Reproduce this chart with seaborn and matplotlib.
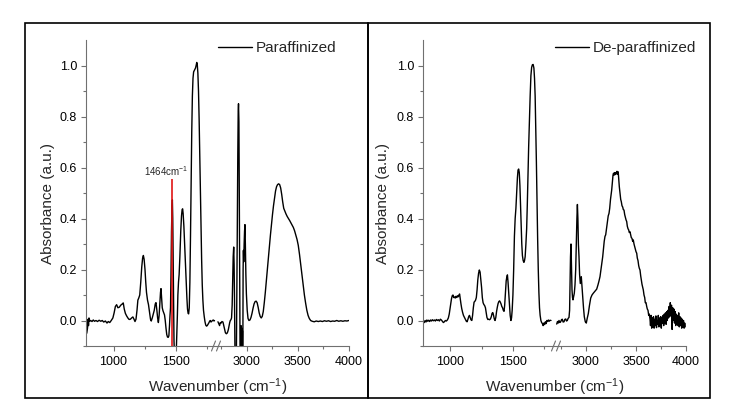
import matplotlib
matplotlib.use("Agg")
import matplotlib.pyplot as plt
import seaborn as sns
from matplotlib.lines import Line2D
from matplotlib.patches import Rectangle
from matplotlib.ticker import FormatStrFormatter

# FTIR spectra: (wavenumber cm-1, absorbance a.u.)
paraffin_low = [
    (786, -0.05), (792, -0.03), (797, 0.005), (800, -0.02), (804, 0.01), (810, -0.003),
    (818, 0.0), (828, -0.004), (838, 0.002), (848, -0.003), (860, 0.0), (872, -0.004),
    (885, 0.001), (898, -0.003), (910, 0.0), (922, -0.006), (935, -0.002), (948, -0.01),
    (958, -0.004), (970, -0.008), (982, 0.0), (995, 0.01), (1005, 0.03), (1015, 0.055),
    (1025, 0.062), (1035, 0.05), (1046, 0.052), (1058, 0.06), (1070, 0.065), (1078, 0.069),
    (1086, 0.045), (1095, 0.028), (1105, 0.018), (1115, 0.01), (1125, 0.004), (1135, 0.005),
    (1145, 0.01), (1155, 0.014), (1163, 0.006), (1172, -0.004), (1180, 0.005), (1188, 0.04),
    (1195, 0.08), (1202, 0.088), (1210, 0.1), (1218, 0.15), (1226, 0.21), (1233, 0.245),
    (1239, 0.255), (1245, 0.24), (1252, 0.2), (1258, 0.15), (1264, 0.11), (1272, 0.08),
    (1280, 0.062), (1288, 0.035), (1296, 0.005), (1302, -0.002), (1310, 0.01), (1318, 0.025),
    (1326, 0.04), (1334, 0.065), (1340, 0.07), (1347, 0.04), (1353, 0.01), (1359, -0.008),
    (1365, 0.02), (1371, 0.07), (1376, 0.11), (1380, 0.125), (1385, 0.09), (1390, 0.05),
    (1396, 0.038), (1402, 0.03), (1408, 0.022), (1414, 0.0), (1420, -0.03), (1426, -0.055),
    (1432, -0.065), (1438, -0.066), (1443, -0.06), (1448, -0.02), (1452, 0.02), (1456, 0.05),
    (1460, 0.18), (1464, 0.35), (1468, 0.45), (1471, 0.473), (1474, 0.4), (1477, 0.25),
    (1480, 0.08), (1484, -0.08), (1489, -0.16), (1495, -0.18), (1501, -0.14), (1506, -0.06),
    (1511, 0.02), (1515, 0.1), (1520, 0.15), (1525, 0.18), (1531, 0.25), (1538, 0.35),
    (1544, 0.41), (1549, 0.435), (1553, 0.438), (1557, 0.42), (1563, 0.37), (1569, 0.3),
    (1575, 0.23), (1581, 0.16), (1587, 0.09), (1592, 0.045), (1597, 0.028), (1601, 0.026),
    (1606, 0.05), (1611, 0.15), (1616, 0.33), (1621, 0.55), (1626, 0.74), (1631, 0.88),
    (1636, 0.95), (1641, 0.975), (1646, 0.98), (1651, 0.985), (1656, 0.99), (1661, 1.0),
    (1666, 1.012), (1670, 1.005), (1675, 0.97), (1680, 0.9), (1685, 0.79), (1690, 0.65),
    (1695, 0.5), (1700, 0.36), (1705, 0.24), (1710, 0.14), (1715, 0.08), (1720, 0.04),
    (1726, 0.015), (1732, -0.005), (1738, -0.018), (1744, -0.022), (1750, -0.02),
    (1756, -0.015), (1762, -0.01), (1768, -0.004), (1774, 0.0), (1780, -0.006),
    (1786, -0.003), (1792, 0.0), (1798, 0.002), (1804, -0.002), (1808, 0.0),
]

paraffin_high = [
    (2719, -0.005), (2727, -0.012), (2735, -0.02), (2742, -0.008), (2750, -0.01),
    (2758, -0.004), (2768, -0.006), (2776, -0.02), (2784, -0.035), (2792, -0.048),
    (2801, -0.052), (2808, -0.05), (2814, -0.045), (2821, -0.035), (2828, -0.02),
    (2834, -0.008), (2840, 0.0), (2846, 0.003), (2852, 0.01), (2858, 0.06), (2863, 0.15),
    (2868, 0.25), (2873, 0.288), (2877, 0.22), (2881, 0.08), (2886, -0.15), (2892, -0.25),
    (2898, -0.2), (2903, 0.05), (2908, 0.35), (2913, 0.65), (2917, 0.82), (2920, 0.85),
    (2924, 0.78), (2928, 0.5), (2932, 0.15), (2936, -0.2), (2940, -0.3), (2944, -0.02),
    (2947, -0.3), (2951, -0.03), (2954, -0.3), (2958, -0.04), (2961, -0.3), (2965, 0.2),
    (2968, 0.275), (2971, 0.23), (2975, 0.3), (2979, 0.35), (2983, 0.376), (2987, 0.3),
    (2992, 0.18), (2997, 0.105), (3005, 0.04), (3013, 0.008), (3022, 0.0), (3032, 0.002),
    (3042, 0.012), (3052, 0.028), (3062, 0.048), (3072, 0.065), (3082, 0.074), (3092, 0.076),
    (3102, 0.07), (3112, 0.052), (3122, 0.03), (3132, 0.016), (3142, 0.01), (3152, 0.016),
    (3162, 0.035), (3172, 0.07), (3182, 0.11), (3192, 0.155), (3202, 0.2), (3212, 0.245),
    (3222, 0.29), (3232, 0.335), (3242, 0.375), (3252, 0.415), (3262, 0.45), (3272, 0.48),
    (3282, 0.508), (3292, 0.525), (3302, 0.533), (3312, 0.536), (3322, 0.533), (3332, 0.52),
    (3342, 0.495), (3352, 0.465), (3362, 0.44), (3372, 0.43), (3384, 0.418), (3396, 0.408),
    (3408, 0.4), (3420, 0.392), (3432, 0.383), (3444, 0.374), (3456, 0.365), (3468, 0.352),
    (3480, 0.335), (3492, 0.318), (3504, 0.295), (3516, 0.26), (3528, 0.22), (3540, 0.18),
    (3552, 0.14), (3564, 0.1), (3576, 0.068), (3588, 0.04), (3600, 0.02), (3612, 0.008),
    (3625, 0.0), (3640, -0.003), (3660, -0.005), (3680, -0.002), (3700, -0.004),
    (3720, -0.002), (3740, -0.004), (3760, -0.001), (3780, -0.003), (3800, -0.001),
    (3820, -0.004), (3840, -0.002), (3860, -0.003), (3880, 0.0), (3900, -0.003),
    (3920, -0.001), (3940, -0.003), (3960, -0.001), (3980, -0.002), (3998, 0.0),
]

deparaffin_low = [
    (778, -0.01), (784, -0.002), (790, -0.008), (797, 0.0), (804, -0.006), (811, 0.002),
    (818, -0.003), (825, 0.001), (833, -0.004), (840, 0.002), (848, -0.002), (855, 0.003),
    (863, -0.001), (871, 0.002), (879, -0.002), (887, 0.004), (895, 0.0), (903, 0.003),
    (911, -0.002), (919, 0.005), (927, 0.002), (935, -0.003), (943, -0.008), (951, -0.005),
    (959, 0.0), (967, -0.002), (975, 0.002), (983, 0.01), (990, 0.025), (996, 0.045),
    (1002, 0.065), (1008, 0.085), (1014, 0.097), (1020, 0.1), (1026, 0.09), (1032, 0.092),
    (1038, 0.088), (1044, 0.095), (1050, 0.09), (1056, 0.097), (1062, 0.093), (1068, 0.1),
    (1073, 0.104), (1078, 0.085), (1084, 0.065), (1090, 0.047), (1097, 0.032), (1104, 0.02),
    (1112, 0.012), (1120, 0.004), (1127, -0.003), (1133, -0.005), (1140, 0.005), (1146, 0.015),
    (1152, 0.02), (1158, 0.012), (1164, 0.003), (1171, 0.0), (1177, 0.02), (1183, 0.05),
    (1189, 0.072), (1195, 0.075), (1201, 0.08), (1207, 0.09), (1213, 0.12), (1219, 0.16),
    (1225, 0.185), (1231, 0.198), (1237, 0.19), (1243, 0.16), (1249, 0.13), (1255, 0.09),
    (1261, 0.07), (1267, 0.063), (1274, 0.058), (1280, 0.05), (1286, 0.03), (1292, 0.012),
    (1299, 0.004), (1306, 0.005), (1313, 0.003), (1320, 0.006), (1327, 0.015), (1333, 0.028),
    (1339, 0.031), (1345, 0.02), (1351, 0.006), (1357, 0.0), (1363, 0.012), (1369, 0.035),
    (1375, 0.052), (1381, 0.066), (1387, 0.074), (1393, 0.077), (1399, 0.072), (1405, 0.065),
    (1411, 0.055), (1417, 0.05), (1423, 0.04), (1429, 0.036), (1434, 0.06), (1440, 0.11),
    (1446, 0.155), (1451, 0.17), (1456, 0.179), (1461, 0.15), (1466, 0.11), (1472, 0.06),
    (1478, 0.02), (1484, 0.0), (1489, 0.01), (1494, 0.04), (1500, 0.1), (1506, 0.2),
    (1512, 0.33), (1518, 0.4), (1524, 0.44), (1530, 0.5), (1536, 0.56), (1541, 0.59),
    (1546, 0.594), (1551, 0.58), (1556, 0.53), (1561, 0.45), (1566, 0.37), (1571, 0.3),
    (1576, 0.255), (1582, 0.235), (1588, 0.228), (1593, 0.235), (1598, 0.25), (1604, 0.3),
    (1610, 0.36), (1615, 0.45), (1620, 0.56), (1626, 0.68), (1632, 0.78), (1638, 0.88),
    (1644, 0.96), (1650, 0.993), (1656, 1.003), (1662, 1.004), (1668, 0.99), (1673, 0.95),
    (1678, 0.88), (1683, 0.76), (1688, 0.62), (1693, 0.46), (1698, 0.32), (1703, 0.2),
    (1708, 0.11), (1713, 0.05), (1718, 0.02), (1724, 0.0), (1730, -0.008), (1736, -0.012),
    (1742, -0.02), (1748, -0.01), (1754, -0.016), (1760, -0.005), (1766, -0.012),
    (1772, 0.0), (1778, -0.004), (1784, 0.002), (1790, -0.003), (1797, 0.001), (1805, 0.0),
]

deparaffin_high = [
    (2707, -0.014), (2715, -0.004), (2722, -0.01), (2730, 0.0), (2738, -0.008),
    (2747, -0.005), (2755, 0.003), (2763, 0.005), (2771, -0.006), (2780, -0.005),
    (2788, 0.004), (2797, 0.006), (2805, -0.002), (2813, 0.0), (2821, 0.008), (2830, 0.012),
    (2836, 0.04), (2840, 0.133), (2845, 0.25), (2850, 0.3), (2855, 0.2), (2860, 0.12),
    (2865, 0.09), (2870, 0.081), (2877, 0.095), (2883, 0.107), (2890, 0.14), (2897, 0.2),
    (2903, 0.3), (2909, 0.4), (2914, 0.455), (2919, 0.4), (2924, 0.3), (2930, 0.25),
    (2936, 0.18), (2943, 0.145), (2948, 0.16), (2953, 0.172), (2960, 0.13), (2967, 0.094),
    (2975, 0.05), (2983, 0.015), (2993, -0.005), (3003, -0.01), (3013, 0.01), (3023, 0.027),
    (3035, 0.06), (3047, 0.088), (3060, 0.1), (3073, 0.107), (3090, 0.115), (3107, 0.123),
    (3120, 0.14), (3130, 0.155), (3140, 0.172), (3150, 0.2), (3160, 0.23), (3167, 0.25),
    (3175, 0.28), (3182, 0.31), (3190, 0.33), (3197, 0.336), (3205, 0.36), (3215, 0.39),
    (3222, 0.41), (3230, 0.42), (3237, 0.44), (3245, 0.475), (3250, 0.49), (3257, 0.512),
    (3265, 0.55), (3270, 0.57), (3275, 0.577), (3280, 0.57), (3285, 0.58), (3290, 0.572),
    (3297, 0.58), (3303, 0.575), (3310, 0.585), (3316, 0.573), (3322, 0.583), (3328, 0.55),
    (3333, 0.525), (3340, 0.5), (3347, 0.475), (3353, 0.466), (3360, 0.45), (3367, 0.445),
    (3373, 0.435), (3380, 0.433), (3387, 0.415), (3393, 0.405), (3400, 0.395), (3407, 0.388),
    (3413, 0.37), (3420, 0.36), (3427, 0.355), (3433, 0.345), (3440, 0.348), (3447, 0.335),
    (3453, 0.325), (3460, 0.322), (3467, 0.31), (3473, 0.316), (3480, 0.3), (3487, 0.29),
    (3493, 0.282), (3500, 0.27), (3507, 0.264), (3513, 0.245), (3520, 0.235), (3527, 0.215),
    (3533, 0.205), (3540, 0.198), (3547, 0.175), (3553, 0.16), (3560, 0.142), (3567, 0.13),
    (3573, 0.12), (3580, 0.1), (3587, 0.09), (3593, 0.07), (3600, 0.07), (3607, 0.055),
    (3613, 0.045), (3620, 0.04), (3627, 0.02), (3633, 0.025), (3640, 0.005),
    (3645, -0.02), (3651, 0.02), (3657, -0.03), (3663, 0.01), (3669, -0.025), (3675, 0.015),
    (3681, -0.03), (3687, 0.005), (3693, -0.02), (3699, 0.018), (3705, -0.028), (3711, 0.0),
    (3717, -0.015), (3723, 0.02), (3729, -0.025), (3735, 0.01), (3741, -0.02), (3747, 0.015),
    (3753, -0.03), (3759, 0.012), (3765, -0.01), (3771, 0.02), (3777, -0.02), (3783, 0.025),
    (3789, -0.01), (3795, 0.03), (3801, -0.015), (3807, 0.035), (3813, 0.0), (3819, 0.04),
    (3825, 0.01), (3831, 0.055), (3837, 0.015), (3843, 0.07), (3849, 0.02), (3855, 0.06),
    (3861, -0.035), (3867, 0.05), (3873, 0.0), (3879, 0.045), (3885, -0.01), (3891, 0.035),
    (3897, -0.02), (3903, 0.025), (3909, -0.015), (3915, 0.02), (3921, -0.02), (3927, 0.03),
    (3933, -0.025), (3939, 0.015), (3945, -0.02), (3951, 0.01), (3957, -0.03), (3963, 0.005),
    (3969, -0.025), (3975, 0.0), (3981, -0.03), (3987, -0.01), (3992, -0.025),
]

peak_wn = 1464
peak_top = 0.555
peak_label = "1464cm$^{-1}$"

y_range = (-0.1, 1.1)
y_major = [0.0, 0.2, 0.4, 0.6, 0.8, 1.0]
y_minor = [-0.1, 0.1, 0.3, 0.5, 0.7, 0.9]
low_major, low_minor = [1000, 1500], [1250, 1750]
high_major, high_minor = [3000, 3500, 4000], [2750, 3250, 3750]

sns.set_style("ticks")
plt.rcParams["font.family"] = ["Liberation Sans", "DejaVu Sans"]
plt.rcParams["mathtext.default"] = "regular"

W, H = 750, 408
fig = plt.figure(figsize=(W / 100, H / 100), dpi=100)
gray = "#707070"


def add_box(x0, x1, y0=40, y1=346):
    return fig.add_axes([x0 / W, 1 - y1 / H, (x1 - x0) / W, (y1 - y0) / H])


def style(ax, xlim, major, minor, show_y):
    ax.set_xlim(*xlim)
    ax.set_ylim(*y_range)
    ax.set_xticks(major)
    ax.set_xticks(minor, minor=True)
    ax.set_xlabel("")
    ax.set_ylabel("")
    ax.tick_params(axis="both", which="major", direction="out", length=3.5, width=0.8,
                   color=gray, labelsize=9, labelcolor="black")
    ax.tick_params(axis="both", which="minor", direction="out", length=2, width=0.8, color=gray)
    ax.tick_params(axis="x", pad=4)
    ax.tick_params(axis="y", pad=3)
    for s in ax.spines.values():
        s.set_color(gray)
        s.set_linewidth(0.8)
    if show_y:
        ax.set_yticks(y_major)
        ax.set_yticks(y_minor, minor=True)
        ax.yaxis.set_major_formatter(FormatStrFormatter("%.1f"))
        sns.despine(ax=ax)
    else:
        ax.set_yticks([])
        ax.set_yticks([], minor=True)
        sns.despine(ax=ax, left=True)


def panel(low, high, name, x_lo, x_split, x_hi, frame, ylab_x, leg_x, low_lim):
    ax_lo = add_box(x_lo, x_split)
    ax_hi = add_box(x_split, x_hi)
    wn, ab = zip(*low)
    sns.lineplot(x=list(wn), y=list(ab), ax=ax_lo, color="black", linewidth=1.0,
                 sort=False, estimator=None, legend=False)
    wn, ab = zip(*high)
    sns.lineplot(x=list(wn), y=list(ab), ax=ax_hi, color="black", linewidth=1.0,
                 sort=False, estimator=None, legend=False, label=name)
    style(ax_lo, low_lim, low_major, low_minor, True)
    style(ax_hi, (2700, 4000), high_major, high_minor, False)

    ax_hi.legend(loc="center left", bbox_to_anchor=(leg_x / W, 1 - 48 / H),
                 bbox_transform=fig.transFigure, frameon=False, borderpad=0,
                 borderaxespad=0, handlelength=2.2, handletextpad=0.3, fontsize=11)

    # axis break marks
    for dx in (-2.5, 2.5):
        fig.add_artist(Line2D([(x_split + dx - 2) / W, (x_split + dx + 2) / W],
                              [1 - 351 / H, 1 - 341 / H], transform=fig.transFigure,
                              color=gray, lw=0.8))

    fig.text(ylab_x / W, 1 - 203 / H, "Absorbance (a.u.)", rotation=90,
             ha="center", va="center", fontsize=11)
    fig.text((x_lo + x_hi) / 2 / W, 1 - 392 / H, "Wavenumber (cm$^{-1}$)",
             ha="center", va="baseline", fontsize=11)
    fig.add_artist(Rectangle((frame[0] / W, 1 - 398 / H), (frame[1] - frame[0]) / W, 375 / H,
                             transform=fig.transFigure, fill=False, ec="black", lw=1.2))
    return ax_lo


ax_par = panel(paraffin_low, paraffin_high, "Paraffinized", 86, 216, 349, (25, 368),
               48, 218, (780, 1820))
panel(deparaffin_low, deparaffin_high, "De-paraffinized", 423, 556, 686, (368, 710),
      382.5, 555, (780, 1845))

ax_par.vlines(peak_wn, y_range[0], peak_top, color="#e01010", lw=1.3, alpha=0.9, zorder=3)
ax_par.text(1422, 0.565, peak_label, ha="center", va="baseline", fontsize=7)

fig.savefig("out.png", dpi=100)
